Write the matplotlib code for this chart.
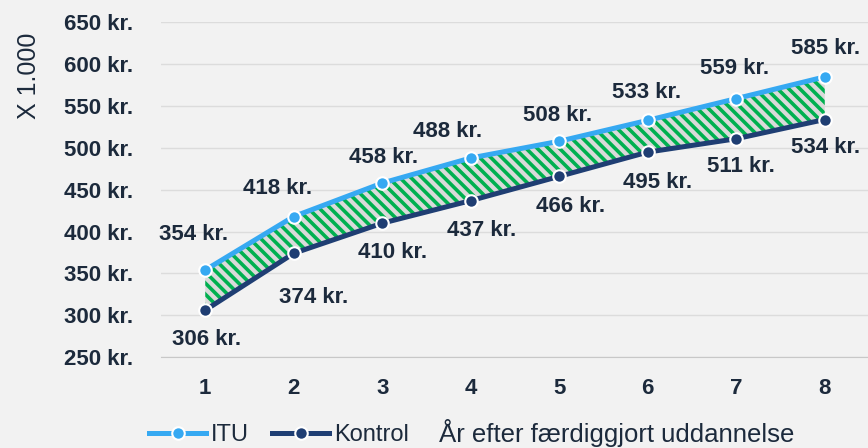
import matplotlib
matplotlib.use("Agg")
import matplotlib.pyplot as plt
from matplotlib.lines import Line2D

plt.rcParams["font.family"] = ["Liberation Sans", "DejaVu Sans"]
plt.rcParams["hatch.linewidth"] = 2.6

years = [1, 2, 3, 4, 5, 6, 7, 8]
itu = [354, 418, 458, 488, 508, 533, 559, 585]
kontrol = [306, 374, 410, 437, 466, 495, 511, 534]
yticks = [250, 300, 350, 400, 450, 500, 550, 600, 650]

# label offsets in pixels (dx, dy)
itu_off = [(-12, 36), (-16, 28), (1, 26), (-23, 26), (-2, 26), (-1, 28), (-2, 30), (1, 28)]
kon_off = [(1, -29), (20, -44), (10, -29), (11, -30), (11, -30), (10, -30), (5, -28), (1, -28)]

BG = "#f2f2f2"
C_ITU = "#36a9f2"
C_KON = "#1f3e73"
TXT = "#1c2a3c"

fig = plt.figure(figsize=(8.68, 4.48), dpi=100, facecolor=BG)
ax = fig.add_axes([161 / 868, 1 - 357 / 448, 708 / 868, 334.5 / 448])
ax.set_facecolor(BG)

ax.fill_between(years, kontrol, itu, facecolor="#dadada", edgecolor="#00b050",
                hatch="\\\\\\", linewidth=0, zorder=2)
ax.plot(years, itu, color=C_ITU, lw=3.6, marker="o", ms=9, mfc=C_ITU, mec="white",
        mew=1.5, zorder=4)
ax.plot(years, kontrol, color=C_KON, lw=3.6, marker="o", ms=9, mfc=C_KON, mec="white",
        mew=1.5, zorder=4)

for x, v, o in zip(years, itu, itu_off):
    ax.annotate(f"{v} kr.", (x, v), xytext=o, textcoords="offset pixels", ha="center",
                va="center", fontsize=16, fontweight="bold", color=TXT)
for x, v, o in zip(years, kontrol, kon_off):
    ax.annotate(f"{v} kr.", (x, v), xytext=o, textcoords="offset pixels", ha="center",
                va="center", fontsize=16, fontweight="bold", color=TXT)

ax.set_xlim(0.5, 8.5)
ax.set_ylim(250, 650)
ax.set_yticks(yticks)
ax.set_yticklabels([f"{t} kr." for t in yticks], fontsize=16, fontweight="bold", color=TXT)
ax.set_xticks(years)
ax.set_xticklabels([str(y) for y in years], fontsize=16, fontweight="bold", color=TXT)
ax.tick_params(length=0)
ax.tick_params(axis="x", pad=15)
ax.tick_params(axis="y", pad=20)
ax.grid(axis="y", color="#dcdcdc", lw=1)
ax.set_axisbelow(True)
for s in ["top", "right", "left"]:
    ax.spines[s].set_visible(False)
ax.spines["bottom"].set_color("#c8c8c8")

fig.text(29 / 868, 1 - 76 / 448, "X 1.000", rotation=90, ha="center", va="center",
         fontsize=18, color=TXT)

handles = [Line2D([], [], color=C_ITU, lw=3.6, marker="o", ms=9, mec="white", mew=1.5),
           Line2D([], [], color=C_KON, lw=3.6, marker="o", ms=9, mec="white", mew=1.5)]
fig.legend(handles, ["ITU", "Kontrol"], loc="center left", bbox_to_anchor=(140 / 868, 1 - 435 / 448),
           ncol=2, frameon=False, fontsize=17, handlelength=2.4, handletextpad=0.2,
           columnspacing=1.0, labelcolor=TXT, borderaxespad=0)
fig.text(439 / 868, 1 - 433 / 448, "År efter færdiggjort uddannelse", ha="left", va="center",
         fontsize=18.5, color=TXT)

fig.savefig("out.png", dpi=100, facecolor=BG)
